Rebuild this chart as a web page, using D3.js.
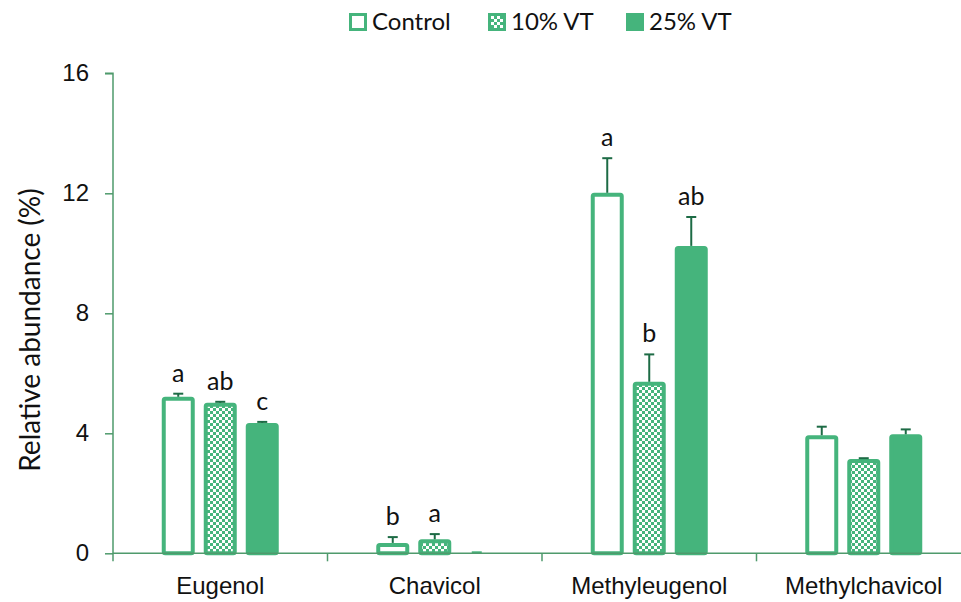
<!DOCTYPE html>
<html>
<head>
<meta charset="utf-8">
<script src="https://cdn.jsdelivr.net/npm/d3@7"></script>
<style>
  html, body { margin: 0; padding: 0; background: #fff; }
  svg { display: block; font-family: "Lato", "Open Sans", sans-serif; }
</style>
</head>
<body>
<svg id="chart" width="961" height="602"></svg>
<script>
// Relative abundance of phenylpropanoids under each treatment
const compounds = ["Eugenol", "Chavicol", "Methyleugenol", "Methylchavicol"];
const treatments = ["Control", "10% VT", "25% VT"];
const controlMean = [5.15, 0.28, 11.95, 3.87];
const vt10Mean    = [4.95, 0.40, 5.65, 3.08];
const vt25Mean    = [4.28, 0.00, 10.18, 3.90];
const controlErr  = [0.17, 0.26, 1.22, 0.35];
const vt10Err     = [0.10, 0.24, 0.98, 0.09];
const vt25Err     = [0.10, 0.00, 1.03, 0.23];
const controlSig  = ["a", "b", "a", ""];
const vt10Sig     = ["ab", "a", "b", ""];
const vt25Sig     = ["c", "", "ab", ""];
const yTicks = [0, 4, 8, 12, 16];

const green = "#45b47c";
const dark = "#1d6b45";
const axisColor = "#4f9a6c";

const svg = d3.select("#chart");

const x = d3.scaleBand().domain(compounds).range([113, 113 + 4 * 214.5]).paddingInner(0).paddingOuter(0);
const y = d3.scaleLinear().domain([0, 16]).range([553.3, 73.3]);
const sub = d3.scaleBand().domain(treatments).range([-58.5, 58.5]).paddingInner(9 / 42).paddingOuter(0);

// Checkered fill for the 10% VT series
const defs = svg.append("defs");
const pat = defs.append("pattern").attr("id", "checker")
  .attr("patternUnits", "userSpaceOnUse").attr("width", 6).attr("height", 6);
pat.append("rect").attr("width", 6).attr("height", 6).attr("fill", green);
pat.append("rect").attr("x", 0).attr("y", 0).attr("width", 3).attr("height", 3).attr("fill", "#fff");
pat.append("rect").attr("x", 3).attr("y", 3).attr("width", 3).attr("height", 3).attr("fill", "#fff");

const rows = compounds.map((c, i) => [
  { c, t: "Control", v: controlMean[i], e: controlErr[i], s: controlSig[i] },
  { c, t: "10% VT", v: vt10Mean[i], e: vt10Err[i], s: vt10Sig[i] },
  { c, t: "25% VT", v: vt25Mean[i], e: vt25Err[i], s: vt25Sig[i] }
]).flat();

const fillFor = t => t === "Control" ? "#fff" : (t === "10% VT" ? "url(#checker)" : green);

// Axes
const yAxis = d3.axisLeft(y).tickValues(yTicks).tickSize(8).tickPadding(16).tickFormat(d3.format("d"));
const gy = svg.append("g").attr("transform", "translate(113,0)").call(yAxis);
gy.select(".domain").attr("stroke", axisColor).attr("stroke-width", 1.5).attr("d", `M-8,${y(16)}H0V${y(0)}`);
gy.selectAll(".tick line").attr("stroke", axisColor).attr("stroke-width", 1.5);
gy.selectAll(".tick text").attr("font-size", 24).attr("fill", "#111");

const bars = svg.append("g");
const cx = d => x(d.c) + x.bandwidth() / 2 + sub(d.t) + sub.bandwidth() / 2;
const bw = sub.bandwidth();

bars.selectAll("rect.bar").data(rows.filter(d => d.v > 0)).join("rect")
  .attr("class", "bar")
  .attr("x", d => cx(d) - bw / 2 + 2)
  .attr("width", bw - 4)
  .attr("y", d => y(d.v))
  .attr("height", d => y(0) - y(d.v))
  .attr("rx", 1.5)
  .attr("fill", d => fillFor(d.t))
  .attr("stroke", green)
  .attr("stroke-width", 4);

// Error bars (upper only)
const eb = svg.append("g").attr("stroke", dark).attr("stroke-width", 2);
rows.forEach(d => {
  const top = y(d.v + d.e);
  if (d.e > 0) {
    eb.append("line").attr("x1", cx(d)).attr("x2", cx(d)).attr("y1", y(d.v) - 2).attr("y2", top);
    eb.append("line").attr("x1", cx(d) - 5).attr("x2", cx(d) + 5).attr("y1", top).attr("y2", top);
  } else {
    eb.append("line").attr("x1", cx(d) - 5).attr("x2", cx(d) + 5).attr("y1", top - 1).attr("y2", top - 1)
      .attr("stroke", green);
  }
});

// Significance letters
svg.append("g").selectAll("text").data(rows.filter(d => d.s)).join("text")
  .attr("x", d => cx(d))
  .attr("y", d => y(d.v + d.e) - 12)
  .attr("text-anchor", "middle")
  .attr("font-size", 25)
  .attr("fill", "#111")
  .text(d => d.s);

// X axis drawn over bar bottoms
const xAxis = d3.axisBottom(x).tickSize(0).tickPadding(24);
const gx = svg.append("g").attr("transform", `translate(0,${y(0)})`).call(xAxis);
gx.select(".domain").attr("stroke", axisColor).attr("stroke-width", 1.5).attr("d", `M113,0H961`);
gx.selectAll(".tick text").attr("font-size", 24).attr("fill", "#111");
const edges = d3.range(compounds.length + 1).map(i => 113 + i * x.step());
gx.selectAll("line.edge").data(edges).join("line").attr("class", "edge")
  .attr("x1", d => d).attr("x2", d => d).attr("y1", 0).attr("y2", 8)
  .attr("stroke", axisColor).attr("stroke-width", 1.5);

// Y axis title
svg.append("text")
  .attr("transform", `translate(30,330) rotate(-90)`)
  .attr("text-anchor", "middle")
  .attr("dy", "0.35em")
  .attr("font-size", 28)
  .attr("fill", "#111")
  .text("Relative abundance (%)");

// Legend
const legendX = [349, 488, 626];
const lg = svg.append("g");
treatments.forEach((t, i) => {
  const g = lg.append("g").attr("transform", `translate(${legendX[i]},13)`);
  g.append("rect").attr("x", 1.5).attr("y", 1.5).attr("width", 15).attr("height", 15)
    .attr("fill", fillFor(t)).attr("stroke", green).attr("stroke-width", 3);
  g.append("text").attr("x", 23).attr("y", 9).attr("dy", "0.35em")
    .attr("font-size", 24).attr("fill", "#111").text(t);
});
</script>
</body>
</html>
